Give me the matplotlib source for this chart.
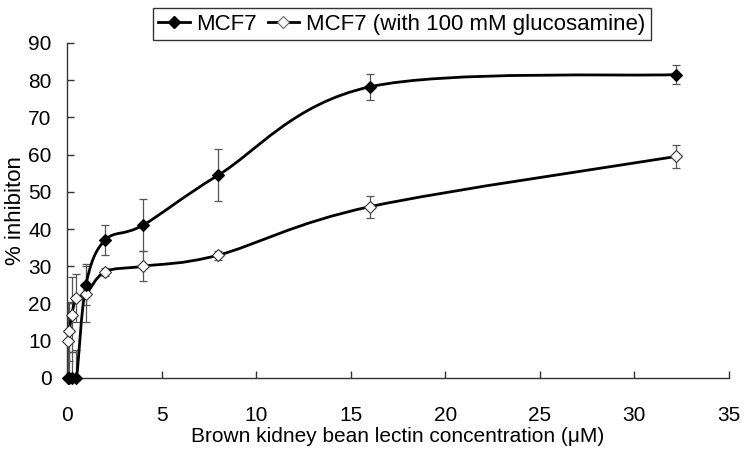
import numpy as np
import matplotlib.pyplot as plt
from matplotlib.path import Path
from matplotlib.patches import PathPatch
from matplotlib.lines import Line2D

plt.rcParams['font.family'] = ['Liberation Sans', 'DejaVu Sans']

conc = [0.0625, 0.125, 0.25, 0.5, 1, 2, 4, 8, 16, 32.2]
mcf7 = [0, 0, 0, 0, 25, 37, 41, 54.5, 78.2, 81.5]
mcf7_err = [0, 7, 7, 7.5, 5.5, 4, 7, 7, 3.5, 2.5]
gluc = [10, 12.5, 17, 21.5, 22.5, 28.5, 30, 33, 46, 59.5]
gluc_err = [10, 8, 10, 6.5, 7.5, 1, 4, 1.2, 3, 3]


def smooth_path(x, y):
    # excel-like smoothed line: cubic bezier, catmull-rom control points
    pts = np.column_stack([x, y]).astype(float)
    verts = [pts[0]]
    codes = [Path.MOVETO]
    n = len(pts)
    for i in range(n - 1):
        p0 = pts[i - 1] if i > 0 else pts[i]
        p1 = pts[i]
        p2 = pts[i + 1]
        p3 = pts[i + 2] if i + 2 < n else pts[i + 1]
        c1 = p1 + (p2 - p0) / 6
        c2 = p2 - (p3 - p1) / 6
        verts += [c1, c2, p2]
        codes += [Path.CURVE4] * 3
    return Path(verts, codes)


fig = plt.figure(figsize=(7.48, 4.57), dpi=100)
ax = fig.add_axes([0.0896, 0.173, 0.885, 0.733])

for y, err, fc in [(gluc, gluc_err, 'white'), (mcf7, mcf7_err, 'black')]:
    ax.errorbar(conc, y, yerr=err, fmt='none', ecolor='#555555',
                elinewidth=0.9, capsize=3, capthick=0.9, zorder=2)
    ax.add_patch(PathPatch(smooth_path(conc, y), fill=False,
                           edgecolor='black', lw=2, zorder=3))
    ax.plot(conc, y, linestyle='none', marker='D', markersize=6.5,
            markerfacecolor=fc, markeredgecolor='#333333' if fc == 'white' else 'black',
            markeredgewidth=0.8, zorder=4, clip_on=False)

ax.set_xlim(0, 35)
ax.set_ylim(0, 90)
ax.set_xticks(range(0, 36, 5))
ax.set_yticks(range(0, 91, 10))
ax.spines['top'].set_visible(False)
ax.spines['right'].set_visible(False)
for s in ['left', 'bottom']:
    ax.spines[s].set_linewidth(1)
    ax.spines[s].set_color('#333333')
ax.tick_params(direction='in', length=5, width=1, labelsize=15,
               colors='#333333', labelcolor='black')
ax.tick_params(axis='x', pad=20)
ax.tick_params(axis='y', pad=11)
ax.set_xlabel('Brown kidney bean lectin concentration (\u03bcM)', fontsize=15, labelpad=2)
ax.set_ylabel('% inhibiton', fontsize=16, labelpad=2)

handles = [
    Line2D([], [], color='black', lw=2, marker='D', markersize=6,
           markerfacecolor='black', markeredgecolor='black'),
    Line2D([], [], color='black', lw=2, marker='D', markersize=6,
           markerfacecolor='white', markeredgecolor='#666666', markeredgewidth=0.8),
]
leg = fig.legend(handles, ['MCF7', 'MCF7 (with 100 mM glucosamine)'],
                 loc='center', bbox_to_anchor=(0.537, 0.947), ncol=2,
                 fontsize=16, frameon=True, fancybox=False, edgecolor='black',
                 handlelength=1.4, handletextpad=0.3, columnspacing=0.5,
                 borderpad=0.25)
leg.get_frame().set_linewidth(1)

fig.savefig('out.png', dpi=100)
